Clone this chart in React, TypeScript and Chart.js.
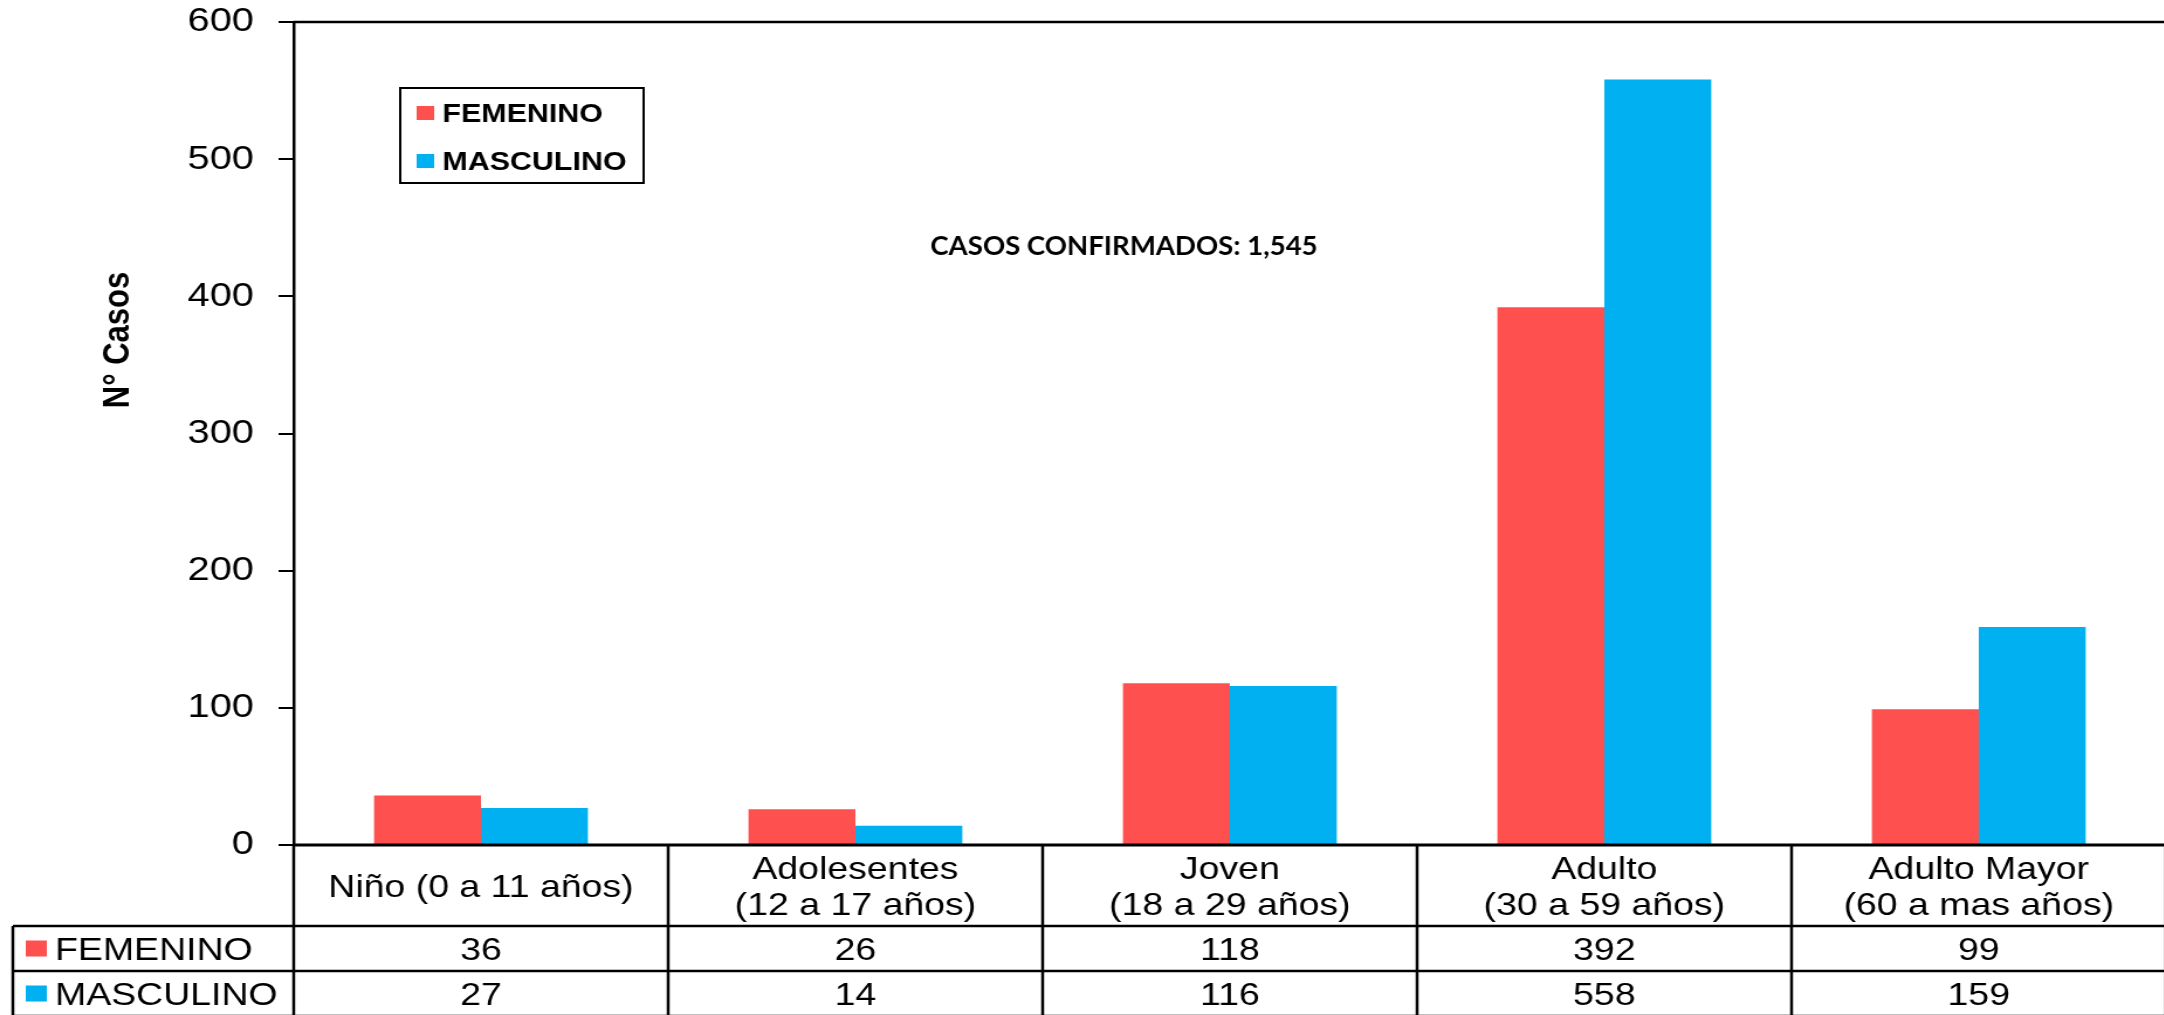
import React, { useEffect, useRef } from "react";
import { Chart, registerables } from "chart.js";

Chart.register(...registerables);

// ---------- data ----------
const categoryLines: string[][] = [
  ["Niño (0 a 11 años)"],
  ["Adolesentes", "(12 a 17 años)"],
  ["Joven", "(18 a 29 años)"],
  ["Adulto", "(30 a 59 años)"],
  ["Adulto Mayor", "(60 a mas años)"],
];
const seriesNames = ["FEMENINO", "MASCULINO"];
const femenino = [36, 26, 118, 392, 99];
const masculino = [27, 14, 116, 558, 159];
const seriesColors = ["#FF5050", "#00B0F0"];
const yMin = 0;
const yMax = 600;
const yStep = 100;
const yTitle = "N° Casos";
const totalLabel = "CASOS CONFIRMADOS: 1,545";

// ---------- canvas geometry (internal px, shown stretched horizontally) ----------
const INNER_W = 1851;
const INNER_H = 1015;
const SHOWN_W = 2166;
const FONT = "'Liberation Sans', Arial, Helvetica, sans-serif";

const decorPlugin = {
  id: "decorAndTable",
  afterDraw(chart: any) {
    const { ctx, chartArea: ca, scales } = chart;
    const xs = scales.x;
    const n = chart.data.labels.length;
    const catW = xs.getPixelForValue(1) - xs.getPixelForValue(0);
    const right = ca.right + 4;
    const hdrBottom = ca.bottom + 81;
    const row1Bottom = hdrBottom + 45;
    const row2Bottom = row1Bottom + 45;
    const tableLeft = 11;

    const line = (x1: number, y1: number, x2: number, y2: number, w = 2.5) => {
      ctx.lineWidth = w;
      ctx.beginPath();
      ctx.moveTo(x1, y1);
      ctx.lineTo(x2, y2);
      ctx.stroke();
    };

    ctx.save();
    ctx.strokeStyle = "#000";
    ctx.fillStyle = "#000";

    // plot frame
    line(ca.left, ca.top, right, ca.top, 2.5);
    line(ca.left, ca.bottom, right, ca.bottom, 3.2);

    // table grid
    line(tableLeft, hdrBottom, right, hdrBottom);
    line(tableLeft, row1Bottom, right, row1Bottom);
    line(tableLeft, row2Bottom, right, row2Bottom);
    line(tableLeft, hdrBottom, tableLeft, row2Bottom);
    for (let i = 0; i <= n; i++) {
      const xx = xs.getPixelForValue(Math.min(i, n - 1)) + (i < n ? -catW / 2 : catW / 2);
      line(xx, ca.bottom, xx, row2Bottom);
    }

    // header labels
    const cap = 0.716 * 32;
    ctx.font = `32px ${FONT}`;
    ctx.textAlign = "center";
    ctx.textBaseline = "alphabetic";
    const hdrCenter = (ca.bottom + hdrBottom) / 2;
    categoryLines.forEach((lines, i) => {
      const cx = xs.getPixelForValue(i);
      const first = hdrCenter - ((lines.length - 1) * 36) / 2 + cap / 2;
      lines.forEach((t, k) => ctx.fillText(t, cx, first + k * 36));
    });

    // data rows
    const rows = [femenino, masculino];
    const rowCenters = [(hdrBottom + row1Bottom) / 2, (row1Bottom + row2Bottom) / 2];
    rows.forEach((vals, r) => {
      const cy = rowCenters[r];
      ctx.fillStyle = seriesColors[r];
      ctx.fillRect(22, cy - 8, 18, 16);
      ctx.fillStyle = "#000";
      ctx.textAlign = "left";
      ctx.fillText(seriesNames[r], 47, cy + cap / 2);
      ctx.textAlign = "center";
      vals.forEach((v, i) => ctx.fillText(String(v), xs.getPixelForValue(i), cy + cap / 2));
    });

    // legend box
    ctx.lineWidth = 2;
    ctx.strokeRect(342, 88, 208, 95);
    ctx.font = `bold 26px ${FONT}`;
    ctx.textAlign = "left";
    const legBase = [122, 170];
    seriesNames.forEach((name, r) => {
      ctx.fillStyle = seriesColors[r];
      ctx.fillRect(356, legBase[r] - 16, 15, 14);
      ctx.fillStyle = "#000";
      ctx.fillText(name, 378, legBase[r]);
    });

    // total label
    ctx.font = `bold 26px Lato, 'Open Sans', sans-serif`;
    const mw = ctx.measureText(totalLabel).width;
    ctx.save();
    ctx.translate(795, 255);
    ctx.scale(331 / mw, 1);
    ctx.fillText(totalLabel, 0, 0);
    ctx.restore();

    // y-axis title
    ctx.save();
    ctx.translate(101, 340);
    ctx.rotate(-Math.PI / 2);
    ctx.font = `bold 31px ${FONT}`;
    ctx.textAlign = "center";
    ctx.textBaseline = "middle";
    ctx.fillText(yTitle, 0, 0);
    ctx.restore();

    ctx.restore();
  },
};

export default function App() {
  const canvasRef = useRef<HTMLCanvasElement | null>(null);

  useEffect(() => {
    const canvas = canvasRef.current;
    if (!canvas) return;
    const chart = new Chart(canvas, {
      type: "bar",
      data: {
        labels: categoryLines.map((l) => l.join(" ")),
        datasets: [
          {
            label: seriesNames[0],
            data: femenino,
            backgroundColor: seriesColors[0],
            borderWidth: 0,
            barPercentage: 1,
            categoryPercentage: 0.571,
          },
          {
            label: seriesNames[1],
            data: masculino,
            backgroundColor: seriesColors[1],
            borderWidth: 0,
            barPercentage: 1,
            categoryPercentage: 0.571,
          },
        ],
      },
      options: {
        responsive: false,
        animation: false,
        devicePixelRatio: 1,
        layout: { padding: { top: 22, bottom: 170, left: 0, right: 0 } },
        plugins: {
          legend: { display: false },
          tooltip: { enabled: false },
          title: { display: false },
        },
        scales: {
          x: {
            display: false,
            offset: true,
          },
          y: {
            min: yMin,
            max: yMax,
            afterFit: (scale: any) => {
              scale.width = 251;
              scale.paddingTop = 0;
              scale.paddingBottom = 0;
            },
            ticks: {
              stepSize: yStep,
              color: "#000",
              padding: 21,
              font: { family: FONT, size: 34 },
            },
            grid: {
              drawOnChartArea: false,
              drawTicks: true,
              tickLength: 13,
              color: "#000",
              lineWidth: 2,
            },
            border: { display: true, color: "#000", width: 2.5 },
          },
        },
      },
      plugins: [decorPlugin],
    });
    return () => chart.destroy();
  }, []);

  return (
    <div
      style={{
        position: "absolute",
        left: 0,
        top: 0,
        width: 2164,
        height: 1015,
        overflow: "hidden",
        background: "#fff",
      }}
    >
      <canvas
        ref={canvasRef}
        width={INNER_W}
        height={INNER_H}
        style={{ width: `${SHOWN_W}px`, height: `${INNER_H}px`, display: "block" }}
      />
    </div>
  );
}
